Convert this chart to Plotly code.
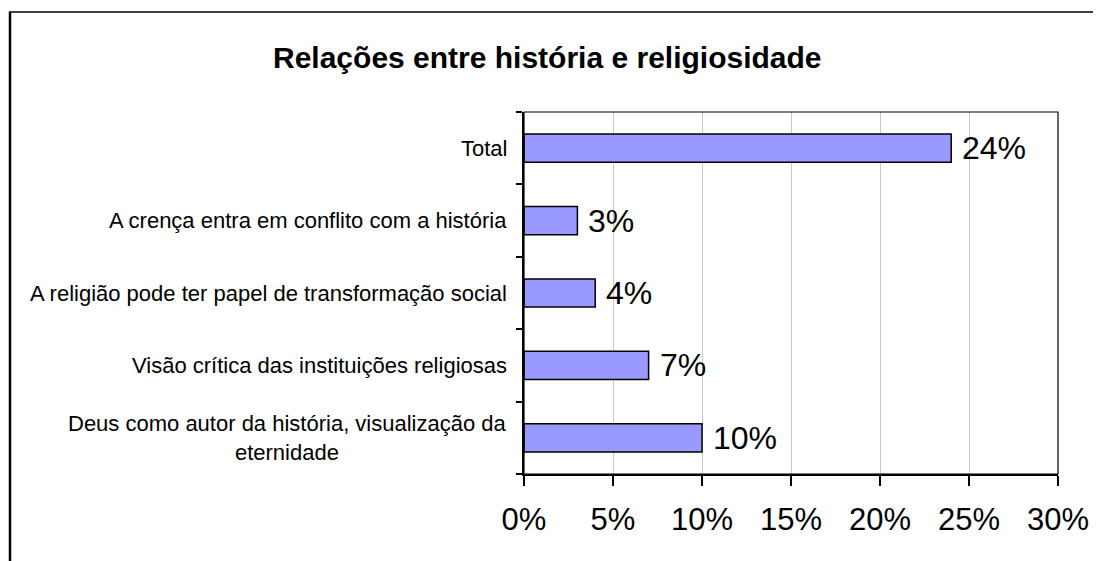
import plotly.graph_objects as go

categories = [
    "Total",
    "A crença entra em conflito com a história",
    "A religião pode ter papel de transformação social",
    "Visão crítica das instituições religiosas",
    "Deus como autor da história, visualização da<br>eternidade",
]
values = [0.24, 0.03, 0.04, 0.07, 0.10]
value_labels = ["24%", "3%", "4%", "7%", "10%"]
x_tickvals = [0, 0.05, 0.10, 0.15, 0.20, 0.25, 0.30]
x_ticktext = ["0%", "5%", "10%", "15%", "20%", "25%", "30%"]
title_text = "Relações entre história e religiosidade"

FONT = "Arial, Liberation Sans, sans-serif"

# page body has an 8px margin; work in reference pixel coords, shifted by OFF
OFF = 8
W, H = 1101 - OFF, 561 - OFF
L, R, T, B = 524 - OFF, 43, 112 - OFF, 87
pw, ph = W - L - R, H - T - B


def px_x(p):  # reference page pixel -> paper x
    return (p - OFF - L) / pw


def px_y(p):  # reference page pixel -> paper y
    return (H - B - (p - OFF)) / ph


fig = go.Figure()
fig.add_trace(go.Bar(
    y=categories, x=values, orientation="h", width=0.39,
    marker=dict(color="#9999FF", line=dict(color="black", width=1.5)),
    hoverinfo="skip",
))

annotations = []
for c, v, t in zip(categories, values, value_labels):
    annotations.append(dict(x=v, y=c, xref="x", yref="y", text=t, showarrow=False,
                            xanchor="left", yanchor="middle", xshift=9,
                            font=dict(family=FONT, size=32, color="black")))
    annotations.append(dict(x=0, y=c, xref="paper", yref="y", text=c, showarrow=False,
                            xanchor="right", yanchor="middle", xshift=-15, align="center",
                            font=dict(family=FONT, size=22, color="black")))
annotations.append(dict(x=px_x(547), y=px_y(57), xref="paper", yref="paper",
                        text="<b>" + title_text + "</b>", showarrow=False,
                        xanchor="center", yanchor="middle",
                        font=dict(family=FONT, size=30, color="black")))

fig.update_layout(
    width=W, height=H,
    margin=dict(l=L, r=R, t=T, b=B),
    paper_bgcolor="white", plot_bgcolor="white",
    showlegend=False,
    annotations=annotations,
    xaxis=dict(
        range=[0, 0.30], tickvals=x_tickvals, ticktext=x_ticktext,
        showgrid=True, gridcolor="#C8C8C8", gridwidth=1,
        showline=True, linecolor="black", linewidth=2,
        ticks="outside", ticklen=10, tickwidth=1.5, tickcolor="black",
        ticklabelstandoff=7,
        tickfont=dict(family=FONT, size=31, color="black"),
        zeroline=False, fixedrange=True,
    ),
    yaxis=dict(
        categoryorder="array", categoryarray=categories[::-1],
        showticklabels=False, tickson="boundaries",
        ticks="outside", ticklen=6, tickwidth=1.5, tickcolor="black",
        showline=True, linecolor="black", linewidth=2,
        showgrid=False, zeroline=False, fixedrange=True,
    ),
    shapes=[
        dict(type="rect", xref="paper", yref="paper", x0=0, x1=1, y0=0, y1=1,
             line=dict(color="black", width=1.2), layer="above"),
        dict(type="line", xref="paper", yref="paper",
             x0=px_x(10), x1=px_x(10), y0=px_y(12), y1=px_y(580),
             line=dict(color="black", width=2.5)),
        dict(type="line", xref="paper", yref="paper",
             x0=px_x(9), x1=px_x(1120), y0=px_y(12), y1=px_y(12),
             line=dict(color="black", width=1.5)),
    ],
)

fig.write_html("out.html")
